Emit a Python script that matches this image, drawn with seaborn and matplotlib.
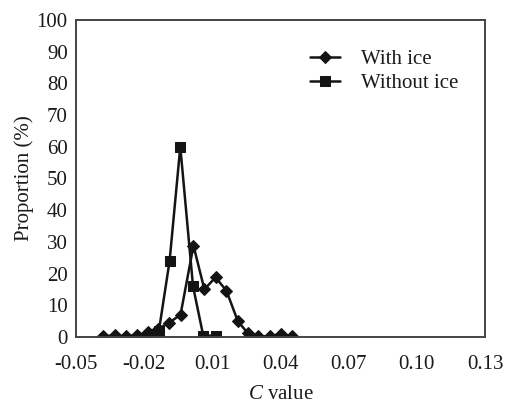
import matplotlib
matplotlib.use("Agg")
import matplotlib.pyplot as plt
import seaborn as sns
import pandas as pd

# Data
with_ice_x = [-0.038, -0.033, -0.028, -0.023, -0.0185, -0.014, -0.009, -0.004,
              0.0017, 0.0065, 0.0114, 0.0162, 0.0212, 0.0256, 0.030, 0.0353, 0.0403, 0.0451]
with_ice_y = [0.2, 0.5, 0.2, 0.6, 1.5, 2.5, 4.5, 7.0,
              28.8, 15.0, 18.8, 14.6, 5.0, 1.2, 0.2, 0.2, 1.0, 0.2]

without_ice_x = [-0.0185, -0.0135, -0.0088, -0.0041, 0.0015, 0.006, 0.0116]
without_ice_y = [0.4, 2.0, 24.0, 60.0, 16.0, 0.4, 0.4]

x_ticks = [-0.05, -0.02, 0.01, 0.04, 0.07, 0.10, 0.13]
x_tick_labels = ["-0.05", "-0.02", "0.01", "0.04", "0.07", "0.10", "0.13"]
y_ticks = list(range(0, 101, 10))

sns.set_theme(style="white")
plt.rcParams["font.family"] = ["Liberation Serif", "DejaVu Serif"]
plt.rcParams["mathtext.fontset"] = "custom"
plt.rcParams["mathtext.it"] = "Liberation Serif:italic"
plt.rcParams["mathtext.rm"] = "Liberation Serif"

fig = plt.figure(figsize=(5.1, 4.05), dpi=100)
ax = fig.add_axes([0.149, 0.168, 0.802, 0.783])

df1 = pd.DataFrame({"x": with_ice_x, "y": with_ice_y})
df2 = pd.DataFrame({"x": without_ice_x, "y": without_ice_y})

line_color = "#141414"
sns.lineplot(data=df1, x="x", y="y", ax=ax, color=line_color, marker="D",
             markersize=6, markeredgecolor=line_color, linewidth=1.8,
             label="With ice", sort=False)
sns.lineplot(data=df2, x="x", y="y", ax=ax, color=line_color, marker="s",
             markersize=6.5, markeredgecolor=line_color, linewidth=1.8,
             label="Without ice", sort=False)

ax.set_xlim(-0.05, 0.13)
ax.set_ylim(0, 100)
ax.set_xticks(x_ticks)
ax.set_xticklabels(x_tick_labels)
ax.set_yticks(y_ticks)
ax.tick_params(direction="in", length=4, width=1.2, colors="#333333",
               labelcolor="#1a1a1a", labelsize=15)
ax.tick_params(axis="x", top=False, pad=13)
ax.tick_params(axis="y", right=False, pad=6)
for s in ax.spines.values():
    s.set_visible(True)
    s.set_color("#444444")
    s.set_linewidth(1.4)

ax.set_xlabel(r"$C$ value", fontsize=15, color="#1a1a1a", labelpad=8)
ax.set_ylabel("Proportion (%)", fontsize=15, color="#1a1a1a", labelpad=2)

leg = ax.legend(loc="upper right", bbox_to_anchor=(0.98, 0.965), frameon=False,
                fontsize=15, handlelength=1.45, handletextpad=1.0,
                labelspacing=0.22)
for t in leg.get_texts():
    t.set_color("#1a1a1a")

fig.savefig("out.png", dpi=100)
